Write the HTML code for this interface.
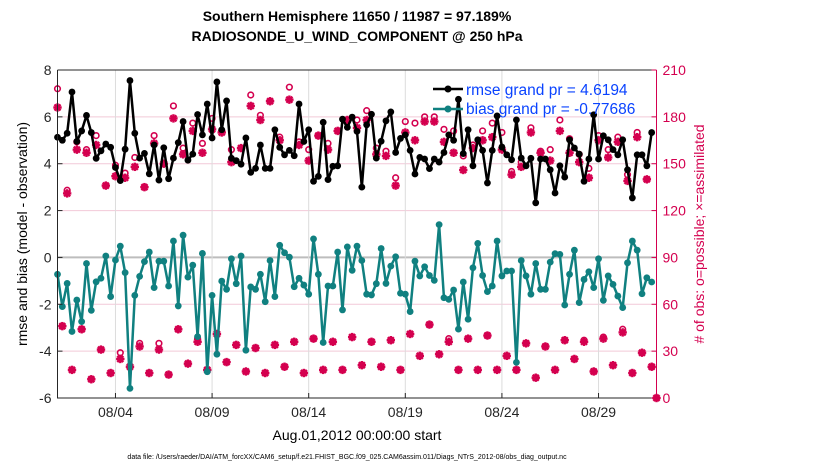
<!DOCTYPE html>
<html><head><meta charset="utf-8">
<style>
html,body{margin:0;padding:0;background:#fff;}
svg{display:block;font-family:"Liberation Sans",Arial,sans-serif;}
</style></head>
<body>
<svg id="chart" width="830" height="470" viewBox="0 0 830 470" xmlns="http://www.w3.org/2000/svg">
<rect x="0" y="0" width="830" height="470" fill="#fff"/>
<text x="357" y="21" text-anchor="middle" font-size="14" font-weight="bold">Southern Hemisphere 11650 / 11987 = 97.189%</text>
<text x="357" y="41" text-anchor="middle" font-size="14" font-weight="bold">RADIOSONDE_U_WIND_COMPONENT @ 250 hPa</text>
<g id="grid"></g>
<g id="marks"></g>
<g id="axes"></g>
<text x="357" y="440" text-anchor="middle" font-size="14">Aug.01,2012 00:00:00 start</text>
<text transform="translate(27,234) rotate(-90)" text-anchor="middle" font-size="14">rmse and bias (model - observation)</text>
<text transform="translate(704,234) rotate(-90)" text-anchor="middle" font-size="14" fill="#d4004f"># of obs: o=possible; ×=assimilated</text>
<text x="347" y="459" text-anchor="middle" font-size="7">data file: /Users/raeder/DAI/ATM_forcXX/CAM6_setup/f.e21.FHIST_BGC.f09_025.CAM6assim.011/Diags_NTrS_2012-08/obs_diag_output.nc</text>
<g id="legend">
<line x1="433" y1="89" x2="463" y2="89" stroke="#000" stroke-width="2.5"/>
<circle cx="448" cy="89" r="3.5" fill="#000"/>
<text x="466" y="95" font-size="15.5" fill="#0a43ff">rmse grand pr = 4.6194</text>
<line x1="433" y1="109" x2="463" y2="109" stroke="#108080" stroke-width="2.5"/>
<circle cx="448" cy="109" r="3.5" fill="#108080"/>
<text x="466" y="114" font-size="15.5" fill="#0a43ff">bias grand pr = -0.77686</text>
</g>
</svg>
<script>
const rmse=[5.13,5.0,5.3,7.06,4.95,5.4,6.06,5.33,4.23,4.55,4.84,4.7,3.84,3.28,4.62,7.55,5.3,4.24,4.44,3.57,4.8,3.3,4.68,3.36,4.24,4.9,5.8,4.15,4.41,6.1,5.23,6.55,5.1,7.49,5.45,6.68,4.23,4.13,3.98,5.1,3.63,3.8,
4.8,3.8,3.8,5.45,4.7,4.38,4.57,4.34,6.55,4.95,5.45,3.25,3.46,5.77,3.32,3.89,3.91,5.9,5.55,5.99,5.38,3.0,5.66,6.11,4.24,4.96,5.83,6.21,4.48,5.08,5.23,4.57,3.56,4.27,4.2,3.79,4.2,4.07,4.48,5.23,5.0,6.75,
4.43,5.45,3.91,5.02,4.57,3.18,4.57,6.04,4.71,4.38,4.17,5.87,4.24,3.91,4.23,2.33,4.2,4.2,3.74,2.75,3.91,3.43,5.02,4.67,4.41,3.25,4.2,6.09,4.2,5.19,5.02,4.6,4.38,5.02,3.74,2.54,4.38,4.38,3.91,5.33];
const bias=[-0.72,-2.1,-1.11,-3.16,-1.82,-2.74,-0.26,-2.26,-1.04,-0.89,0.06,-1.67,-0.11,0.48,-0.65,-5.59,-1.62,-0.81,-0.18,0.23,-1.29,-0.16,-0.16,-1.22,0.7,-2.07,0.95,-0.84,-0.33,-3.38,0.17,-4.88,-1.62,-4.13,-1.01,-1.36,-0.06,-1.12,0.06,-3.96,-1.26,-1.36,
-0.72,-1.89,-0.13,-1.67,0.52,0.2,0.01,-1.25,-0.89,-1.18,-1.57,0.79,-0.72,-3.63,-1.22,-1.22,0.23,-2.24,0.45,-0.55,0.48,-0.13,-1.57,-1.6,-1.12,0.38,-1.11,-0.37,0.03,-1.53,-1.57,-2.31,-0.16,-0.79,-0.4,-0.77,-0.98,1.4,-1.72,-1.79,-1.39,-3.06,
-1.05,-2.64,-0.44,0.6,-0.77,-1.46,-1.22,0.7,-0.79,-0.58,-0.58,-4.48,-0.13,-0.79,-1.57,-0.26,-1.36,-1.36,-0.2,0.16,0.13,-2.03,-0.72,0.31,-1.93,-0.94,-0.61,-1.29,-0.06,-1.83,-0.79,-1.15,-1.65,-2.14,-0.23,0.7,0.31,-1.55,-0.87,-1.05];
const assimilated=[186,46,131,18,159,44,157,12,162,31,136,16,142,25,141,20,148,33,135,16,163,31,150,15,179,44,156,22,171,36,157,18,172,41,170,23,151,34,160,17,187,32,
178,16,190,34,165,20,191,36,162,16,152,38,168,18,159,36,171,18,178,39,173,21,178,36,156,20,155,37,136,18,170,41,165,27,177,47,177,28,164,36,157,18,
146,38,160,18,165,40,167,18,159,27,143,18,148,35,170,13,157,33,152,18,171,37,157,25,151,36,141,17,165,38,154,21,164,42,139,16,167,29,140,20,0];
const possible=[198,46,133,18,164,44,159,12,168,31,136,16,149,29,144,20,154,35,135,16,168,35,150,15,187,44,160,22,176,38,163,18,179,41,171,23,159,34,160,17,194,32,
181,16,190,34,167,20,199,36,164,16,159,38,168,18,163,36,171,18,178,39,178,21,184,36,160,20,158,37,141,18,177,41,176,27,180,47,180,28,172,38,171,18,
155,38,162,18,171,40,176,18,170,27,145,18,151,35,173,13,158,33,159,18,178,37,166,25,156,37,147,17,168,39,159,21,167,44,143,16,170,29,140,20,0];
const leftTicks=[8,6,4,2,0,-2,-4,-6];
const rightTicks=[0,30,60,90,120,150,180,210];
const dateTicks=[3,8,13,18,23,28];
const dateLabels=["08/04","08/09","08/14","08/19","08/24","08/29"];

const NS="http://www.w3.org/2000/svg";
const L=57.5,R=656.5,T=70,B=398;
function xs(t){return L+t*(R-L)/31;}
function yl(v){return T+(8-v)*(B-T)/14;}
function yr(c){return B-c*(B-T)/210;}
function tIdx(i){return i*0.25;}
function mk(tag,attrs,parent){const e=document.createElementNS(NS,tag);for(const k in attrs)e.setAttribute(k,attrs[k]);parent.appendChild(e);return e;}
const grid=document.getElementById('grid'),marks=document.getElementById('marks'),axes=document.getElementById('axes');
const CR="#d4004f";

leftTicks.forEach(v=>{
  if(v===8||v===-6)return;
  const g=mk('line',{x1:L,x2:R,y1:yl(v),y2:yl(v),stroke:v===0?'#bdbdbd':'#f2c9d8','stroke-width':v===0?2:1},grid);
  
  
});
dateTicks.forEach(t=>{
  const g=mk('line',{x1:xs(t),x2:xs(t),y1:T,y2:B,stroke:'#dcdcdc','stroke-width':1},grid);
  
  
});

function star(cx,cy,parent){
  const g=mk('g',{},parent);
  
  
  const s=4.2;
  [[s,0],[0,s],[s*0.72,s*0.72],[s*0.72,-s*0.72]].forEach(d=>{
    mk('line',{x1:cx-d[0],y1:cy-d[1],x2:cx+d[0],y2:cy+d[1],stroke:CR,'stroke-width':2.4},g);
  });
  mk('circle',{cx:cx,cy:cy,r:2.4,fill:CR},g);
}
possible.forEach((c,i)=>{
  const e=mk('circle',{cx:xs(tIdx(i)),cy:yr(c),r:2.8,fill:'none',stroke:CR,'stroke-width':1.6},marks);
  
  
});
assimilated.forEach((c,i)=>{star(xs(tIdx(i)),yr(c),marks);});

function series(vals,color,name){
  const pts=vals.map((v,i)=>xs(tIdx(i)).toFixed(2)+','+yl(v).toFixed(2)).join(' ');
  const pl=mk('polyline',{points:pts,fill:'none',stroke:color,'stroke-width':2.5,'stroke-linejoin':'round'},marks);
  
  
  vals.forEach((v,i)=>{
    const c=mk('circle',{cx:xs(tIdx(i)),cy:yl(v),r:3.4,fill:color},marks);
    
    
  });
}
series(bias,'#108080','bias');
series(rmse,'#000','rmse');

const fr=mk('path',{d:`M${L},${T} L${R},${T} M${L},${T} L${L},${B} L${R},${B}`,stroke:'#262626','stroke-width':1,fill:'none'},axes);


const ra=mk('line',{x1:R,x2:R,y1:T,y2:B,stroke:CR,'stroke-width':1},axes);


leftTicks.forEach(v=>{
  mk('line',{x1:L,x2:L+5,y1:yl(v),y2:yl(v),stroke:'#262626'},axes);
  const t=mk('text',{x:L-6,y:yl(v)+5,'text-anchor':'end','font-size':14,fill:'#262626'},axes);
  t.textContent=v;
  
  
});
rightTicks.forEach(c=>{
  mk('line',{x1:R-5,x2:R,y1:yr(c),y2:yr(c),stroke:CR},axes);
  const t=mk('text',{x:R+6,y:yr(c)+5,'font-size':14,fill:CR},axes);
  t.textContent=c;
  
  
});
dateTicks.forEach((d,k)=>{
  mk('line',{x1:xs(d),x2:xs(d),y1:B,y2:B-5,stroke:'#262626'},axes);
  const t=mk('text',{x:xs(d),y:B+19,'text-anchor':'middle','font-size':14,fill:'#262626'},axes);
  t.textContent=dateLabels[k];
  
  
});
</script>
</body></html>
